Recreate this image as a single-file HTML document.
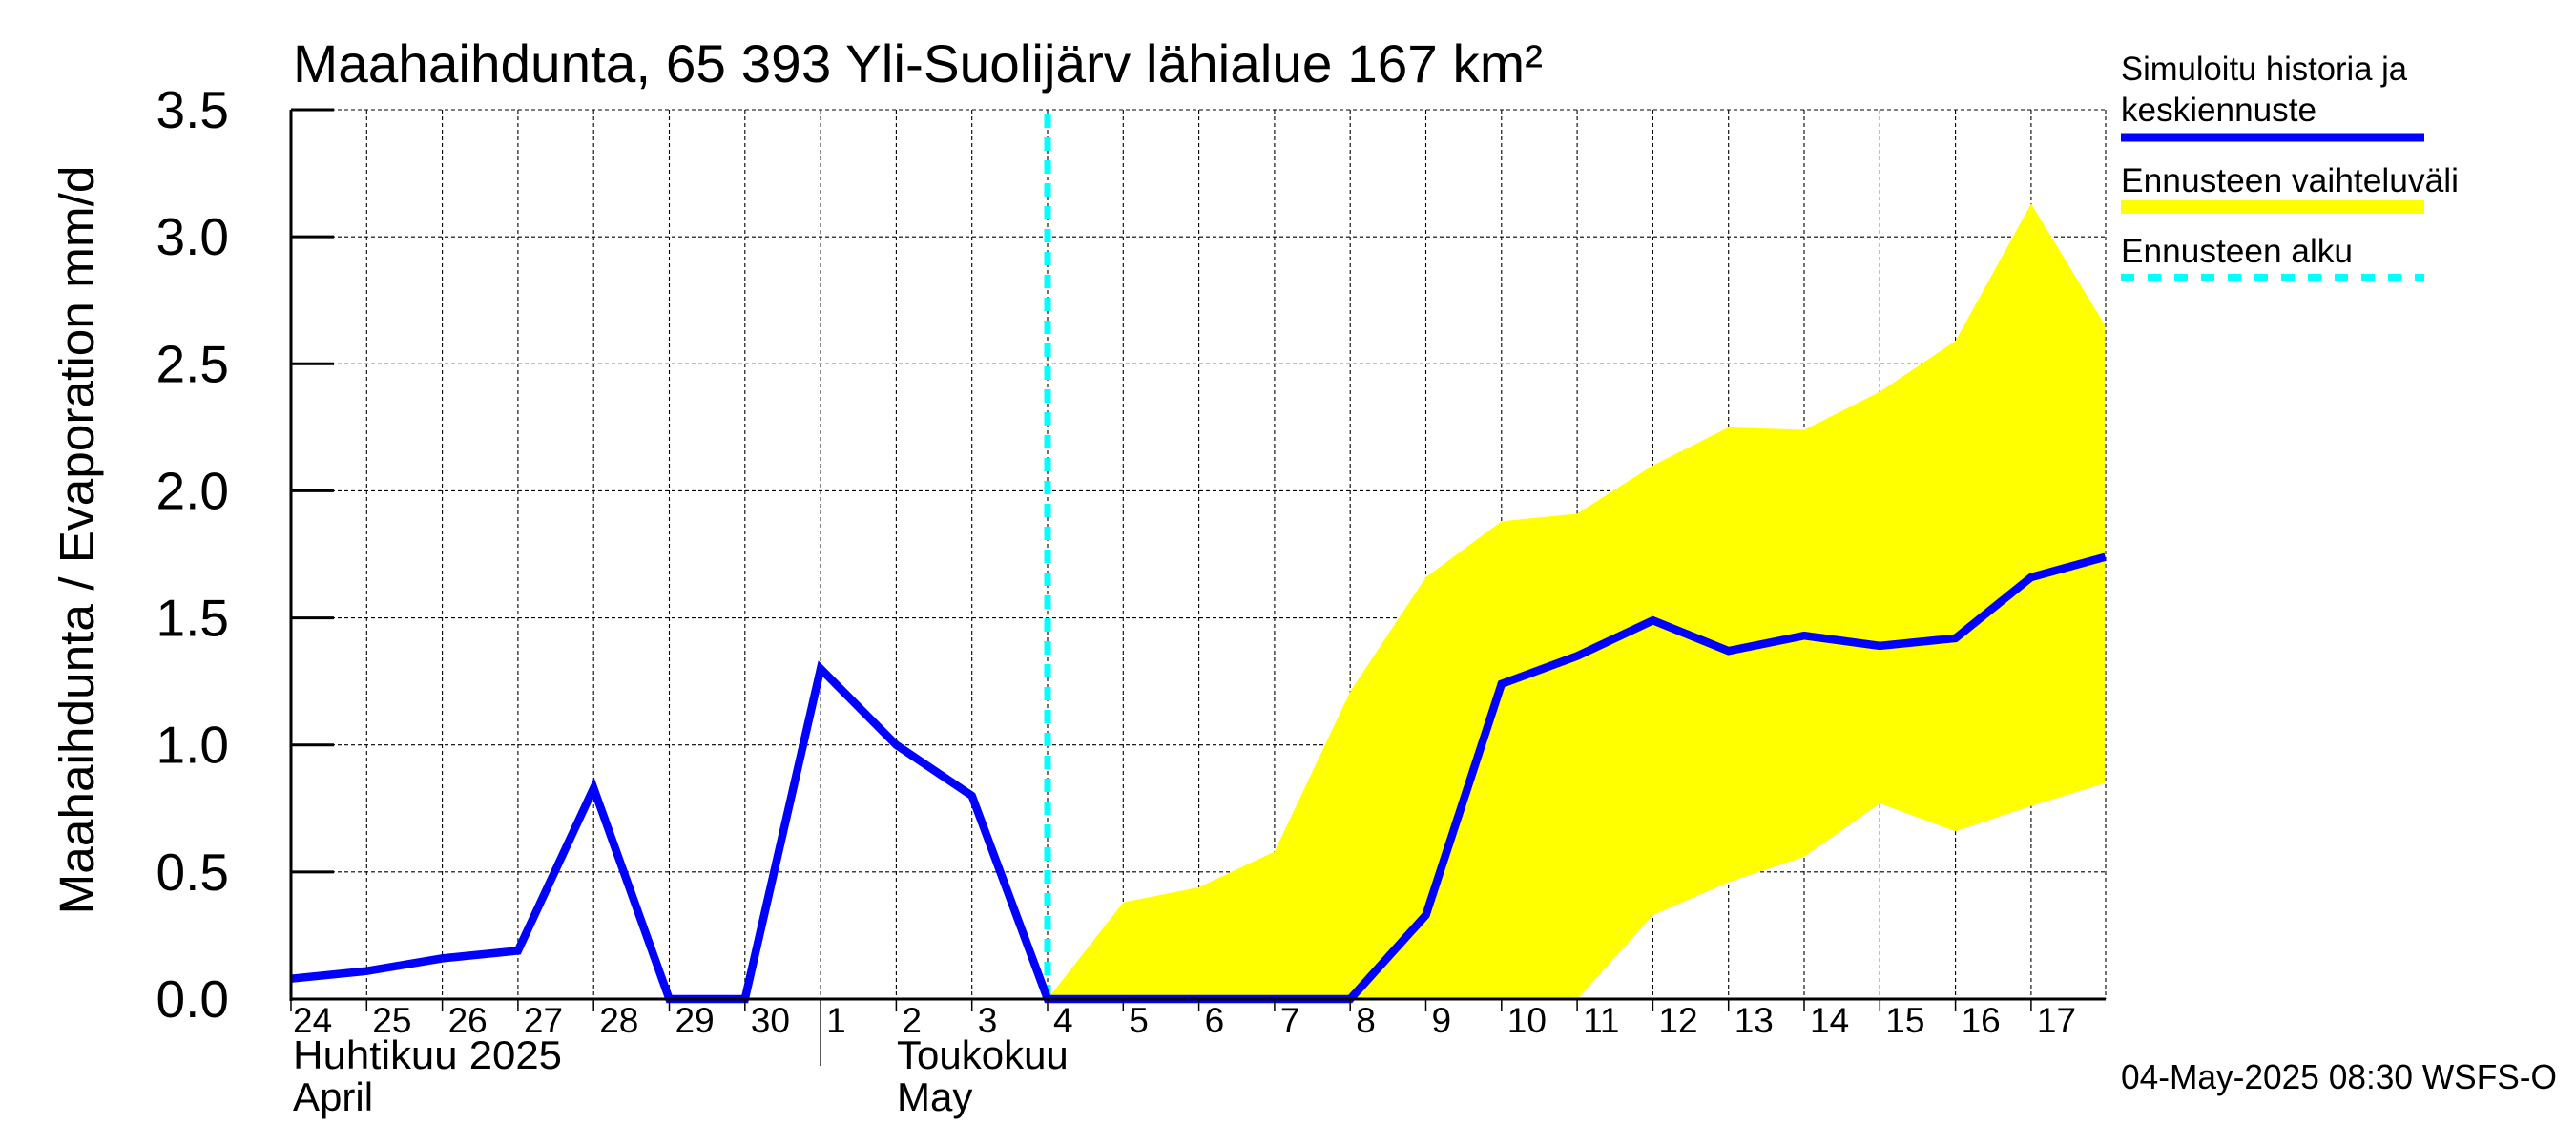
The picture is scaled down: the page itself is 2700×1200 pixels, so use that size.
<!DOCTYPE html>
<html><head><meta charset="utf-8"><style>
html,body{margin:0;padding:0;background:#fff;}
svg{display:block;font-family:"Liberation Sans",sans-serif;}
</style></head><body>
<svg id="chart" width="2700" height="1200" viewBox="0 0 2700 1200" xmlns="http://www.w3.org/2000/svg">
<rect width="2700" height="1200" fill="#fff"/>
<text x="307" y="86" font-size="56" textLength="1310" lengthAdjust="spacingAndGlyphs">Maahaihdunta, 65 393 Yli-Suolijärv lähialue 167 km²</text>
<text transform="translate(98,566) rotate(-90)" text-anchor="middle" font-size="51" textLength="785" lengthAdjust="spacingAndGlyphs">Maahaihdunta / Evaporation   mm/d</text>
<g id="grid"></g><g id="band"></g><g id="line"></g><g id="axes"></g>
<g>
<text x="2223" y="84" font-size="35" textLength="300" lengthAdjust="spacingAndGlyphs">Simuloitu historia ja</text>
<text x="2223" y="127" font-size="35" textLength="205" lengthAdjust="spacingAndGlyphs">keskiennuste</text>
<line x1="2223" y1="144" x2="2541" y2="144" stroke="#0000ff" stroke-width="9"/>
<text x="2223" y="201" font-size="35" textLength="354" lengthAdjust="spacingAndGlyphs">Ennusteen vaihteluväli</text>
<line x1="2223" y1="217" x2="2541" y2="217" stroke="#ffff00" stroke-width="14"/>
<text x="2223" y="275" font-size="35" textLength="243" lengthAdjust="spacingAndGlyphs">Ennusteen alku</text>
<line x1="2223" y1="291" x2="2541" y2="291" stroke="#00ffff" stroke-width="8" stroke-dasharray="14,14"/>
</g>
<text x="2223" y="1141" font-size="36" textLength="457" lengthAdjust="spacingAndGlyphs">04-May-2025 08:30 WSFS-O</text>
</svg>
<script>
const dayLabels=["24","25","26","27","28","29","30","1","2","3","4","5","6","7","8","9","10","11","12","13","14","15","16","17"];
const meanX=[0,1,2,3,4,5,6,7,8,9,10,11,12,13,14,15,16,17,18,19,20,21,22,23,23.98];
const meanY=[0.08,0.11,0.16,0.19,0.83,0,0,1.30,1.0,0.8,0,0,0,0,0,0.33,1.24,1.35,1.49,1.37,1.43,1.39,1.42,1.66,1.74];
const bandX=[10,11,12,13,14,15,16,17,18,19,20,21,22,23,23.98];
const bandUpper=[0,0.38,0.44,0.58,1.21,1.66,1.88,1.91,2.10,2.25,2.24,2.39,2.59,3.13,2.65];
const bandLower=[0,0,0,0,0,0,0,0,0.33,0.46,0.56,0.77,0.66,0.76,0.85];
const yTicks=[0,0.5,1.0,1.5,2.0,2.5,3.0,3.5];
const forecastStart=10;
const X0=305,DX=79.3,XR=2207,Y0=1047,YT=115,YMAX=3.5;
const xs=d=>X0+d*DX, ys=v=>Y0-(Y0-YT)*v/YMAX;
const NS="http://www.w3.org/2000/svg";
function mk(tag,attrs,parent){const e=document.createElementNS(NS,tag);for(const k in attrs)e.setAttribute(k,attrs[k]);parent.appendChild(e);return e;}
const grid=document.getElementById('grid'),axes=document.getElementById('axes');
yTicks.forEach(v=>{
 const g=mk('line',{x1:X0,x2:XR,y1:ys(v),y2:ys(v),stroke:'#000','stroke-width':1.1,'stroke-dasharray':'4,3'},grid);
 
 
 const t=mk('line',{x1:X0,x2:X0+45,y1:ys(v),y2:ys(v),stroke:'#000','stroke-width':3},axes);
 
 
 const l=mk('text',{x:240,y:ys(v)+19,'text-anchor':'end','font-size':55},axes);
 l.textContent=v.toFixed(1);
 
 
});
dayLabels.forEach((d,i)=>{
 const x=xs(i);
 if(i>0){const g=mk('line',{x1:x,x2:x,y1:YT,y2:Y0,stroke:'#000','stroke-width':1.1,'stroke-dasharray':'4,3'},grid);
 
 }
 const t=mk('line',{x1:x,x2:x,y1:Y0,y2:i==7?1117:1060,stroke:'#000','stroke-width':1.5},axes);
 
 
 const l=mk('text',{x:x+(i==0?2:6),y:1082,'font-size':37},axes);
 l.textContent=d;
 
 
});
const g2=mk('line',{x1:XR,x2:XR,y1:YT,y2:Y0,stroke:'#000','stroke-width':1.1,'stroke-dasharray':'4,3'},grid);


let pts=bandX.map((d,i)=>xs(d)+','+ys(bandUpper[i]));
for(let i=bandX.length-1;i>=0;i--)pts.push(xs(bandX[i])+','+ys(bandLower[i]));
const band=mk('polygon',{points:pts.join(' '),fill:'#ffff00'},document.getElementById('band'));


const fs=mk('line',{x1:xs(forecastStart),x2:xs(forecastStart),y1:YT+5,y2:Y0,stroke:'#00ffff','stroke-width':7,'stroke-dasharray':'14,10'},document.getElementById('band'));


const ln=mk('polyline',{points:meanX.map((d,i)=>xs(d)+','+ys(meanY[i])).join(' '),fill:'none',stroke:'#0000ff','stroke-width':8.5,'stroke-linejoin':'miter'},document.getElementById('line'));


const ax1=mk('line',{x1:X0,x2:X0,y1:YT,y2:Y0+2,stroke:'#000','stroke-width':3},axes);


const ax2=mk('line',{x1:X0,x2:XR,y1:Y0,y2:Y0,stroke:'#000','stroke-width':3},axes);


[["Huhtikuu  2025",307,1120,282],["April",307,1164,0],["Toukokuu",940,1120,0],["May",940,1164,0]].forEach(m=>{
 const a={x:m[1],y:m[2],'font-size':42};
 if(m[3]){a.textLength=m[3];a.lengthAdjust='spacingAndGlyphs';}
 const t=mk('text',a,axes);
 t.textContent=m[0];
 
 
});
</script>
</body></html>
